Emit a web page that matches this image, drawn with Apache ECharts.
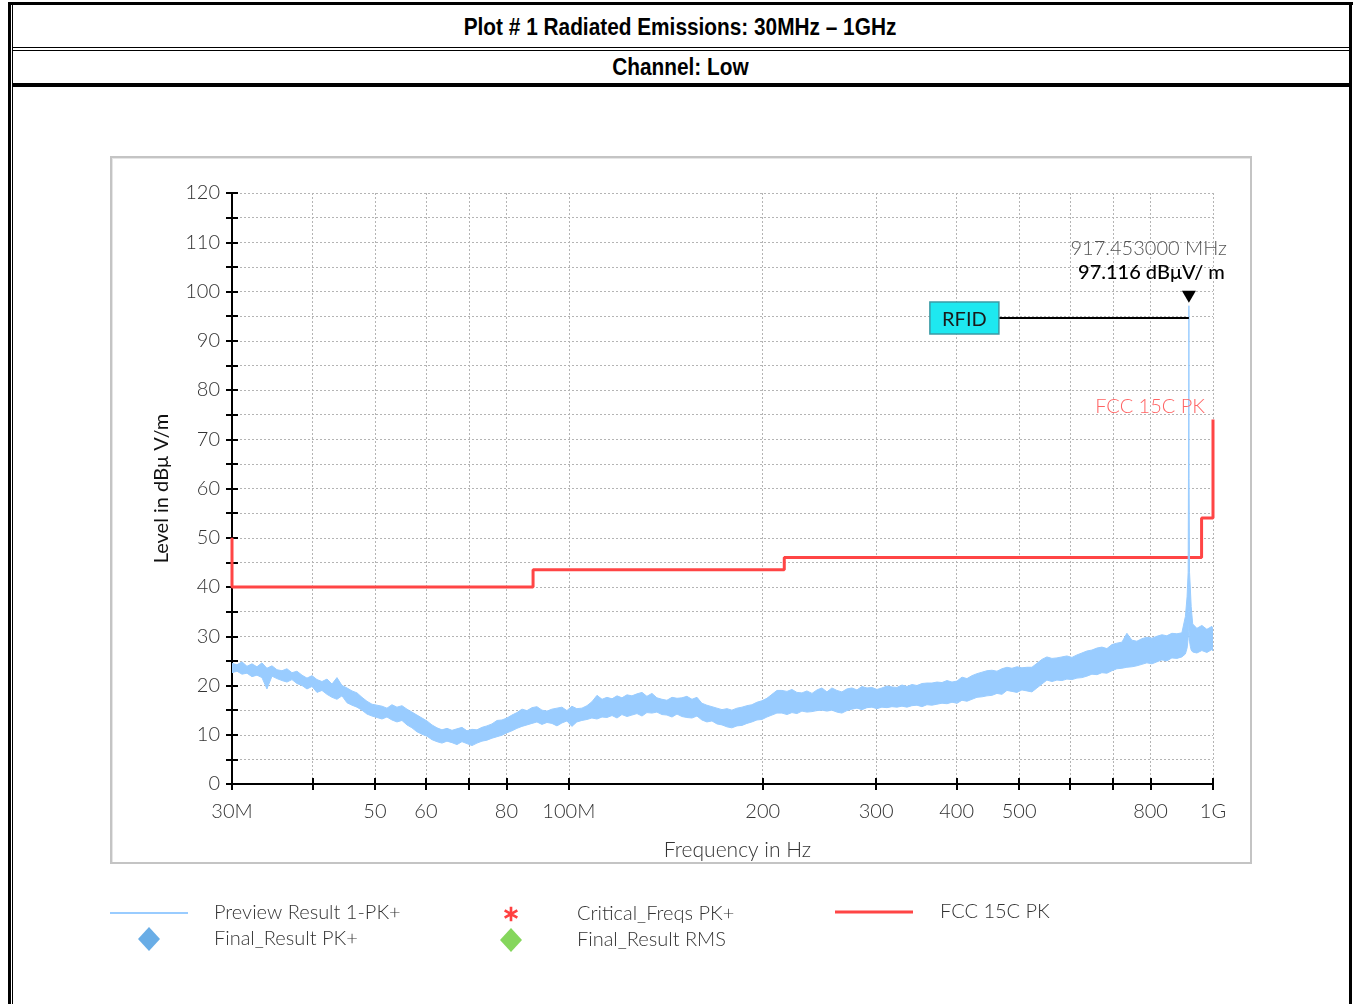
<!DOCTYPE html>
<html><head><meta charset="utf-8">
<script src="https://cdn.jsdelivr.net/npm/echarts@6/dist/echarts.min.js"></script>
<style>
html,body{margin:0;padding:0;background:#fff;}
body{width:1353px;height:1004px;position:relative;overflow:hidden;}
.b{position:absolute;background:#000;}
.t{position:absolute;left:12px;width:1337px;text-align:center;font-family:'Liberation Sans Narrow','Liberation Sans',Arial,sans-serif;font-weight:bold;font-size:23px;color:#000;}
.t span{display:inline-block;transform:scaleX(0.905);transform-origin:center;}
#panel{position:absolute;left:110px;top:156px;width:1142px;height:708px;box-sizing:border-box;border:2px solid #c4c4c4;box-shadow:inset 1px 1px 0 #e6e6e6;}
#chart{position:absolute;left:0;top:0;width:1353px;height:1004px;}
</style></head><body>
<div class="b" style="left:8px;top:2px;width:1345px;height:3px"></div>
<div class="b" style="left:8px;top:2px;width:3px;height:1002px"></div>
<div class="b" style="left:12px;top:5px;width:1px;height:999px"></div>
<div class="b" style="left:1349px;top:2px;width:3px;height:1002px"></div>
<div class="b" style="left:12px;top:47px;width:1337px;height:1px"></div>
<div class="b" style="left:12px;top:50px;width:1337px;height:1px"></div>
<div class="b" style="left:12px;top:83px;width:1337px;height:4px"></div>
<div class="t" style="top:6px;height:42px;line-height:42px"><span>Plot # 1 Radiated Emissions: 30MHz – 1GHz</span></div>
<div class="t" style="top:51px;height:32px;line-height:32px"><span>Channel: Low</span></div>
<div id="panel"></div>
<div id="chart"></div>
<script>
// ---- data ----
const traceFreq = [
 30.00,30.54,31.09,31.65,32.22,32.80,33.39,33.99,34.61,35.23,
 35.87,36.51,37.17,37.84,38.53,39.22,39.93,40.65,41.38,42.13,
 42.89,43.66,44.45,45.25,46.07,46.90,47.74,48.60,49.48,50.37,
 51.28,52.20,53.14,54.10,55.08,56.07,57.08,58.11,59.16,60.23,
 61.31,62.42,63.54,64.69,65.86,67.04,68.25,69.48,70.74,72.01,
 73.31,74.63,75.98,77.35,78.74,80.16,81.61,83.08,84.58,86.10,
 87.65,89.23,90.84,92.48,94.15,95.85,97.57,99.33,101.1,102.9,
 104.8,106.7,108.6,110.6,112.6,114.6,116.7,118.8,120.9,123.1,
 125.3,127.6,129.9,132.2,134.6,137.0,139.5,142.0,144.6,147.2,
 149.8,152.5,155.3,158.1,160.9,163.8,166.8,169.8,172.9,176.0,
 179.1,182.4,185.7,189.0,192.4,195.9,199.4,203.0,206.7,210.4,
 214.2,218.1,222.0,226.0,230.1,234.2,238.5,242.8,247.1,251.6,
 256.1,260.7,265.4,270.2,275.1,280.1,285.1,290.3,295.5,300.8,
 306.2,311.8,317.4,323.1,329.0,334.9,340.9,347.1,353.3,359.7,
 366.2,372.8,379.6,386.4,393.4,400.5,407.7,415.0,422.5,430.1,
 437.9,445.8,453.8,462.0,470.3,478.8,487.4,496.2,505.1,514.2,
 523.5,532.9,542.5,552.3,562.3,572.4,582.7,593.2,603.9,614.8,
 625.9,637.2,648.7,660.4,672.3,684.4,696.7,709.3,722.1,735.1,
 748.3,761.8,775.6,789.5,803.8,818.3,833.0,848.0,863.3,878.9,
 894.7,906.0,911.5,915.0,917.0,917.453,918.0,919.5,922.0,925.0,
 930.0,944.0,961.0,978.3,996.0,1000
];
const traceLo = [
 22.6,22.9,22.3,22.5,21.8,22.1,21.6,19.3,21.9,21.4,
 21.0,20.7,21.2,20.4,20.0,19.3,19.8,18.6,19.0,18.2,
 17.6,17.2,17.9,16.5,16.0,15.6,15.0,14.2,13.8,13.5,
 13.2,13.6,13.0,12.6,12.9,12.0,11.4,10.6,10.1,9.7,
 9.0,8.6,8.3,8.7,8.4,8.0,8.6,8.2,7.8,8.3,
 8.7,8.9,9.3,9.6,9.9,10.4,10.8,11.3,11.7,12.0,
 12.3,12.6,12.1,12.5,12.3,11.8,12.4,12.8,11.7,12.6,
 12.9,13.1,13.4,13.2,13.6,13.5,13.9,13.4,14.1,13.7,
 14.0,14.3,13.8,14.5,14.4,14.6,14.1,14.0,13.6,14.2,
 13.7,13.5,13.4,13.8,13.0,12.6,12.8,12.2,12.0,11.6,
 11.4,11.8,11.9,12.3,12.6,13.0,13.1,13.6,14.0,14.4,
 14.4,14.1,14.5,14.3,14.8,14.6,14.7,14.9,15.0,14.8,
 15.0,14.6,14.4,14.9,15.2,15.4,15.1,15.5,15.6,15.3,
 15.6,15.5,15.7,15.6,15.8,15.6,15.9,16.0,15.7,16.1,
 16.0,16.2,16.4,16.3,16.6,16.4,17.0,16.8,17.2,17.6,
 17.7,17.9,18.0,18.4,18.2,19.0,18.8,18.6,19.1,18.9,
 18.7,19.5,20.3,21.1,20.8,21.1,21.0,21.3,21.2,21.5,
 21.6,21.9,22.3,22.2,22.6,22.5,23.0,23.4,23.5,23.7,
 23.8,24.0,24.3,24.6,24.4,24.8,25.2,25.0,25.6,25.5,
 25.8,26.4,27.6,29.5,31.0,33.0,31.0,29.0,28.0,27.2,
 26.8,26.6,27.1,26.7,27.3,27.0
];
const traceHi = [
 24.5,24.2,24.8,23.9,24.4,23.8,24.6,23.5,24.0,23.2,
 23.0,23.4,22.6,22.9,22.1,21.5,22.0,21.2,20.8,21.3,
 20.3,21.6,20.0,19.5,18.9,18.5,17.6,16.8,16.2,16.0,
 15.8,15.4,16.1,15.6,15.9,15.2,14.6,14.0,13.4,12.8,
 12.0,11.4,11.0,11.3,10.9,11.2,11.5,10.8,11.1,11.0,
 11.5,11.8,12.2,12.9,13.0,13.4,14.0,14.5,15.2,14.9,
 15.5,15.7,15.0,14.8,15.2,15.4,15.6,14.9,15.8,15.3,
 15.4,15.9,16.7,18.0,17.2,17.6,17.3,17.9,17.5,18.1,
 17.9,18.3,18.6,17.8,18.4,17.5,17.2,17.0,17.6,17.4,
 17.5,17.8,17.2,17.6,16.4,16.0,15.7,15.4,15.1,15.3,
 15.0,15.4,15.6,15.9,16.1,16.6,16.9,17.4,18.2,19.0,
 19.0,18.8,19.2,18.6,18.5,18.9,18.4,19.1,19.5,18.7,
 19.5,19.0,18.7,19.3,19.5,19.1,19.8,19.5,19.6,19.2,
 19.5,19.9,19.7,19.6,20.1,19.8,20.2,20.0,20.4,20.5,
 20.5,20.7,20.6,21.0,20.7,20.9,21.7,21.4,22.0,22.4,
 22.7,23.0,23.1,22.9,23.4,23.7,23.5,23.8,23.6,23.7,
 23.7,24.5,25.3,25.8,25.5,25.6,25.8,26.0,25.7,26.2,
 26.6,27.0,27.2,27.6,27.8,27.5,28.3,28.6,28.8,30.6,
 29.2,29.0,29.5,29.8,29.6,30.0,30.3,30.1,30.6,30.5,
 30.7,34.0,38.0,43.0,80.0,97.116,62.0,43.0,40.0,36.0,
 32.5,31.6,32.2,31.4,32.0,31.5
];
const limitFreq  = [30, 30, 88, 88, 216, 216, 960, 960, 1000, 1000];
const limitLevel = [50, 40, 40, 43.5, 43.5, 46, 46, 54, 54, 74];
const xTickValues  = [30, 40, 50, 60, 70, 80, 100, 200, 300, 400, 500, 600, 700, 800, 1000];
const xLabelValues = [30, 50, 60, 80, 100, 200, 300, 400, 500, 800, 1000];
const xLabelTexts  = ['30M', '50', '60', '80', '100M', '200', '300', '400', '500', '800', '1G'];
const yLabelValues = [0, 10, 20, 30, 40, 50, 60, 70, 80, 90, 100, 110, 120];
const markerFreq = 917.453, markerLevel = 97.116, rfidLevel = 94.6;
const limitLabelFreq = 1000, limitLabelLevel = 74;

// ---- chart ----
const FONT = 'Lato, "Open Sans", sans-serif';
const chart = echarts.init(document.getElementById('chart'), null, {renderer: 'canvas'});
const traceRows = traceFreq.map((f, i) => [f, traceLo[i], traceHi[i]]);
const limitPairs = limitFreq.map((f, i) => [f, limitLevel[i]]);
const BLUE = '#99ccff', RED = '#ff4545';
const grid = {left: 232, right: 140, top: 193, bottom: 220, containLabel: false};
const tickStyle = {color: '#000', width: 2};
const dotted = {color: '#b4b4b4', width: 1, type: [2, 2]};
const asterisk = 'path://M4.1 0L5.9 0L5.9 10L4.1 10Z M1.12 1.72L9.78 6.72L8.88 8.28L0.22 3.28Z M0.22 6.72L8.88 1.72L9.78 3.28L1.12 8.28Z';
const legTxt = (pad) => ({fontFamily: FONT, fontWeight: 300, fontSize: 20, color: '#333', lineHeight: 24, padding: [0, 0, 0, pad]});

function renderBand(params, api) {
  if (params.dataIndex !== 0) return null;
  const n = params.dataInsideLength || traceRows.length;
  const top = [], bot = [];
  for (let i = 0; i < traceRows.length; i++) {
    top.push(api.coord([traceRows[i][0], traceRows[i][2]]));
    bot.push(api.coord([traceRows[i][0], traceRows[i][1]]));
  }
  return {
    type: 'polygon',
    shape: {points: top.concat(bot.reverse())},
    style: {fill: BLUE, stroke: BLUE, lineWidth: 1}
  };
}

chart.setOption({
  animation: false,
  grid: grid,
  xAxis: [{
    type: 'log', logBase: 10, min: 30, max: 1000, position: 'bottom',
    axisLine: {show: true, onZero: false, lineStyle: tickStyle},
    axisTick: {show: true, customValues: xTickValues, length: 6, lineStyle: tickStyle},
    axisLabel: {show: true, customValues: xLabelValues, margin: 18, fontSize: 20, color: '#333', fontFamily: FONT, fontWeight: 300,
      formatter: v => { const i = xLabelValues.indexOf(Math.round(v)); return i >= 0 ? xLabelTexts[i] : ''; }},
    splitLine: {show: true, lineStyle: dotted},
    minorTick: {show: false}, minorSplitLine: {show: false},
    name: 'Frequency in Hz', nameLocation: 'middle', nameGap: 56,
    nameTextStyle: {fontFamily: FONT, fontWeight: 300, fontSize: 21, color: '#333', padding: [0, 0, 0, 30]}
  }, {
    type: 'log', logBase: 10, min: 30, max: 1000, position: 'bottom',
    axisLine: {show: false},
    axisTick: {show: true, inside: true, customValues: xTickValues, length: 6, lineStyle: tickStyle},
    axisLabel: {show: false}, splitLine: {show: false}
  }],
  yAxis: [{
    type: 'value', min: 0, max: 120, interval: 5, position: 'left',
    axisLine: {show: true, onZero: false, lineStyle: tickStyle},
    axisTick: {show: true, length: 6, lineStyle: tickStyle},
    axisLabel: {margin: 12, fontSize: 20, color: '#333', fontFamily: FONT, fontWeight: 300,
      formatter: v => yLabelValues.indexOf(v) >= 0 ? String(v) : ''},
    splitLine: {show: true, lineStyle: dotted},
    name: 'Level in dBμ V/m', nameLocation: 'middle', nameGap: 60,
    nameTextStyle: {fontFamily: FONT, fontWeight: 400, fontSize: 20, color: '#111'}
  }, {
    type: 'value', min: 0, max: 120, interval: 5, position: 'left',
    axisLine: {show: false},
    axisTick: {show: true, inside: true, length: 6, lineStyle: tickStyle},
    axisLabel: {show: false}, splitLine: {show: false}
  }],
  legend: [
    {data: ['Preview Result 1-PK+'], left: 110, top: 901, padding: 0, itemWidth: 78, itemHeight: 2, icon: 'rect', textStyle: legTxt(21), selectedMode: false},
    {data: ['Final_Result PK+'], left: 138, top: 927, padding: 0, itemWidth: 22, itemHeight: 24, icon: 'diamond', textStyle: legTxt(49), selectedMode: false},
    {data: ['Critical_Freqs PK+'], left: 504, top: 902, padding: 0, itemWidth: 14, itemHeight: 15, icon: asterisk, textStyle: legTxt(54), selectedMode: false},
    {data: ['Final_Result RMS'], left: 500, top: 928, padding: 0, itemWidth: 22, itemHeight: 24, icon: 'diamond', textStyle: legTxt(50), selectedMode: false},
    {data: ['FCC 15C PK'], left: 835, top: 900, padding: 0, itemWidth: 78, itemHeight: 3, icon: 'rect', textStyle: legTxt(22), selectedMode: false}
  ],
  series: [
    {name: 'FCC 15C PK', type: 'line', data: limitPairs, showSymbol: false, symbol: 'none',
      lineStyle: {color: RED, width: 3}, itemStyle: {color: RED}, silent: true, z: 3},
    {name: 'Preview Result 1-PK+', type: 'custom', data: traceRows, renderItem: renderBand,
      encode: {x: 0, y: [1, 2]}, itemStyle: {color: BLUE}, silent: true, z: 4, clip: true},
    {name: 'Final_Result PK+', type: 'scatter', data: [], symbol: 'diamond', itemStyle: {color: '#4499e0'}},
    {name: 'Critical_Freqs PK+', type: 'scatter', data: [], symbol: asterisk, itemStyle: {color: '#ff1010'}},
    {name: 'Final_Result RMS', type: 'scatter', data: [], symbol: 'diamond', itemStyle: {color: '#66cc33'}}
  ]
});

// ---- annotations placed through the chart's scales ----
const pk = chart.convertToPixel({xAxisIndex: 0, yAxisIndex: 0}, [markerFreq, markerLevel]);
const rf = chart.convertToPixel({xAxisIndex: 0, yAxisIndex: 0}, [markerFreq, rfidLevel]);
const lim = chart.convertToPixel({xAxisIndex: 0, yAxisIndex: 0}, [limitLabelFreq, limitLabelLevel]);
chart.setOption({
  graphic: [
    {type: 'polygon', z: 10, shape: {points: [[pk[0] - 7, pk[1] - 15], [pk[0] + 7, pk[1] - 15], [pk[0], pk[1] - 3]]}, style: {fill: '#000'}},
    {type: 'text', z: 10, style: {text: markerFreq.toFixed(6) + ' MHz', x: pk[0] + 38, y: pk[1] - 57, align: 'right', verticalAlign: 'middle',
      font: '300 20px ' + FONT, fill: '#555'}},
    {type: 'text', z: 10, style: {text: markerLevel.toFixed(3) + ' dBμV/ m', x: pk[0] + 36, y: pk[1] - 33, align: 'right', verticalAlign: 'middle',
      font: '500 20px ' + FONT, fill: '#000'}},
    {type: 'line', z: 10, shape: {x1: pk[0] - 190, y1: rf[1], x2: pk[0], y2: rf[1]}, style: {stroke: '#000', lineWidth: 2}},
    {type: 'rect', z: 11, shape: {x: pk[0] - 259, y: rf[1] - 16, width: 69, height: 32}, style: {fill: '#1ee8f0', stroke: '#3a9aa5', lineWidth: 1.5}},
    {type: 'text', z: 12, style: {text: 'RFID', x: pk[0] - 224.5, y: rf[1] + 1, align: 'center', verticalAlign: 'middle',
      font: '400 20px ' + FONT, fill: '#1a1a1a'}},
    {type: 'text', z: 10, style: {text: 'FCC 15C PK', x: lim[0] - 8, y: lim[1] - 13, align: 'right', verticalAlign: 'middle',
      font: '300 20px ' + FONT, fill: '#ff6464'}}
  ]
});
</script>
</body></html>
